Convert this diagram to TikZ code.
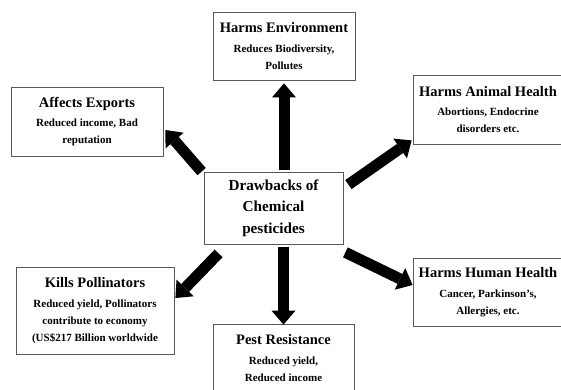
\documentclass[tikz,border=0pt]{standalone}
\usepackage{fontspec}
\setmainfont{Liberation Serif}
\usetikzlibrary{arrows.meta, calc, positioning}
\tikzset{
  effect/.style = {
    draw           = black!65,
    line width     = 0.8pt,
    inner sep      = 0pt,
    align          = center,
    font           = \fontsize{11}{17}\selectfont\bfseries
  },
  core/.style = {
    effect,
    font = \fontsize{15.2}{21.5}\selectfont\bfseries
  },
  bigarrow/.style = {line width = 11pt, -{Triangle[width=24pt, length=14pt, line width=0pt]}}
}
\newcommand{\heading}[1]{{\fontsize{14.5}{17}\selectfont #1}\\[2.5pt]}

\begin{document}
\begin{tikzpicture}[x=1pt, y=-1pt]
\useasboundingbox (0,0) rectangle (561,390);

% Centre box
\node (drawbacks) at (273.5,208) [core, minimum width=139, minimum height=72]
  {Drawbacks of\\ Chemical\\ pesticides};

% Effects round it
\node (env) at (284,46) [effect, minimum width=142, minimum height=68]
  {\heading{Harms Environment} Reduces Biodiversity,\\ Pollutes};
\node (exports) at (87,121.5) [effect, minimum width=152, minimum height=69]
  {\heading{Affects Exports} Reduced income, Bad\\ reputation};
\node (animal) at (488,109.5) [effect, minimum width=150, minimum height=69]
  {\heading{Harms Animal Health} Abortions, Endocrine\\ disorders etc.};
\node (pollinators) at (95,310.5) [effect, minimum width=158, minimum height=87]
  {\heading{Kills Pollinators} Reduced yield, Pollinators\\ contribute to economy\\ (US\$217 Billion worldwide};
\node (resistance) at (283.5,358) [effect, minimum width=141, minimum height=68]
  {\heading{Pest Resistance} Reduced yield,\\ Reduced income};
\node (human) at (488,292) [effect, minimum width=150, minimum height=68]
  {\heading{Harms Human Health} Cancer, Parkinson's,\\ Allergies, etc.};

% Arrows
\draw[bigarrow] ($(drawbacks.north -| env.south)+(0,-2)$) -- ($(env.south)+(0,3)$);
\draw[bigarrow] ($(drawbacks.south -| resistance.north)+(0,3)$) -- ($(resistance.north)+(0,1)$);
\draw[bigarrow] ($(drawbacks.north west)+(-2,0)$) -- ($(exports.east)+(2,8.5)$);
\draw[bigarrow] ($(drawbacks.north east)+(5,13)$) -- ($(animal.south west)+(-1,-4)$);
\draw[bigarrow] ($(drawbacks.south west)+(15,9)$) -- ($(pollinators.east)+(1,-12.5)$);
\draw[bigarrow] ($(drawbacks.south east)+(2,8)$) -- ($(human.west)+(0,-7)$);
\end{tikzpicture}
\end{document}
